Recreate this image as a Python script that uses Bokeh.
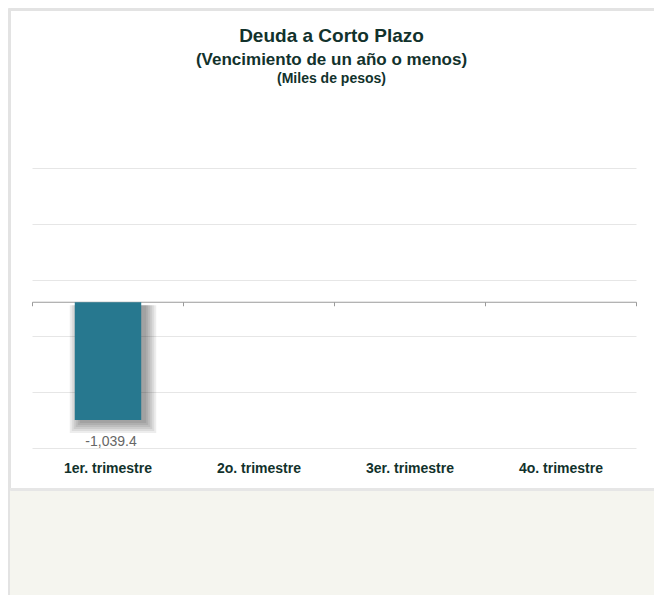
import math
from bokeh.plotting import figure
from bokeh.models import Range1d, ColumnDataSource
from bokeh.embed import file_html
from bokeh.resources import INLINE
from bokeh.core.properties import value

# ---- data ----
categories = ["1er. trimestre", "2o. trimestre", "3er. trimestre", "4o. trimestre"]
deuda = [-1039.4, float("nan"), float("nan"), float("nan")]
title_lines = ["Deuda a Corto Plazo", "(Vencimiento de un año o menos)", "(Miles de pesos)"]
y_axis_min = -1290
y_axis_max = 1180
n_grid = 6

# ---- layout (pixels) ----
W, H = 654, 595
PL, PR, PT, PB = 32, 636, 168, 448
FONT = "Liberation Sans"
DARK = "#12322c"

n = len(categories)
xpp = n / (PR - PL)
ypp = (y_axis_max - y_axis_min) / (PB - PT)
x_start = 0 - PL * xpp
x_end = n + (W - PR) * xpp
y_end = y_axis_max + PT * ypp
y_start = y_axis_min - (H - PB) * ypp

p = figure(width=W, height=H, x_range=Range1d(x_start, x_end),
           y_range=Range1d(y_start, y_end), output_backend="svg",
           toolbar_location=None, min_border=0,
           x_axis_location=None, y_axis_location=None)
p.grid.visible = False
p.outline_line_color = None
p.background_fill_color = "white"
p.border_fill_color = "white"
p.extra_x_ranges = {"px": Range1d(0, W)}
p.extra_y_ranges = {"px": Range1d(H, 0)}

# panel frame and beige footer
p.quad(left=[8], right=[10], top=[8], bottom=[H], color="#e3e3e3",
       x_range_name="px", y_range_name="px")
p.quad(left=[10], right=[W], top=[8], bottom=[10], color="#e3e3e3",
       x_range_name="px", y_range_name="px")
p.quad(left=[10], right=[W], top=[488], bottom=[H], color="#f5f5ef",
       x_range_name="px", y_range_name="px")
p.quad(left=[10], right=[W], top=[488], bottom=[490], color="#e6e6e6",
       x_range_name="px", y_range_name="px")

# gridlines
grid_vals = [y_axis_min + i * (y_axis_max - y_axis_min) / (n_grid - 1) for i in range(n_grid)]
p.segment(x0=[0] * n_grid, x1=[n] * n_grid, y0=grid_vals, y1=grid_vals,
          line_color="#e6e6e6", line_width=1)

# zero axis line + ticks
p.segment(x0=[0], x1=[n], y0=[0], y1=[0], line_color="#9a9a9a", line_width=1)
p.segment(x0=list(range(n + 1)), x1=list(range(n + 1)), y0=[0] * (n + 1),
          y1=[-4 * ypp] * (n + 1), line_color="#9a9a9a", line_width=1)

# bars with soft shadow
xc = [i + 0.5 for i in range(n)]
bw = 0.44
valid = [(x, v) for x, v in zip(xc, deuda) if not math.isnan(v)]
dx, dy = 5, 3
for r in [10, 8, 6, 4, 2, 0]:
    sx = [x + dx * xpp for x, v in valid]
    sw = bw + 2 * r * xpp
    bots = [v - (dy + r) * ypp for x, v in valid]
    p.vbar(x=sx, width=sw, top=[0 - 3 * ypp for _ in valid], bottom=bots,
           fill_color="black", fill_alpha=0.07, line_color=None)

src = ColumnDataSource(dict(x=xc, top=deuda, cat=categories))
p.vbar(x="x", width=bw, bottom=0, top="top", source=src,
       fill_color="#27788f", line_color=None)

# value labels
p.text(x=[x + 3 * xpp for x, v in valid], y=[v - 21 * ypp for x, v in valid],
       text=["{:,.1f}".format(v) for x, v in valid],
       text_font=value(FONT), text_font_size="14px", text_color="#666666",
       text_align="center", text_baseline="alphabetic")

# category labels
p.text(x=xc, y=[467] * n, text=categories,
       y_range_name="px", text_font=value(FONT), text_font_size="14px",
       text_font_style="bold", text_color=DARK, text_align="center",
       text_baseline="alphabetic")

# titles
p.text(x=[331] * 3, y=[35, 59, 77], text=title_lines,
       text_font_size=["19px", "17px", "14px"],
       x_range_name="px", y_range_name="px", text_font=value(FONT),
       text_font_style="bold", text_color=DARK, text_align="center",
       text_baseline="alphabetic")

open("out.html", "w").write(file_html(p, INLINE))
